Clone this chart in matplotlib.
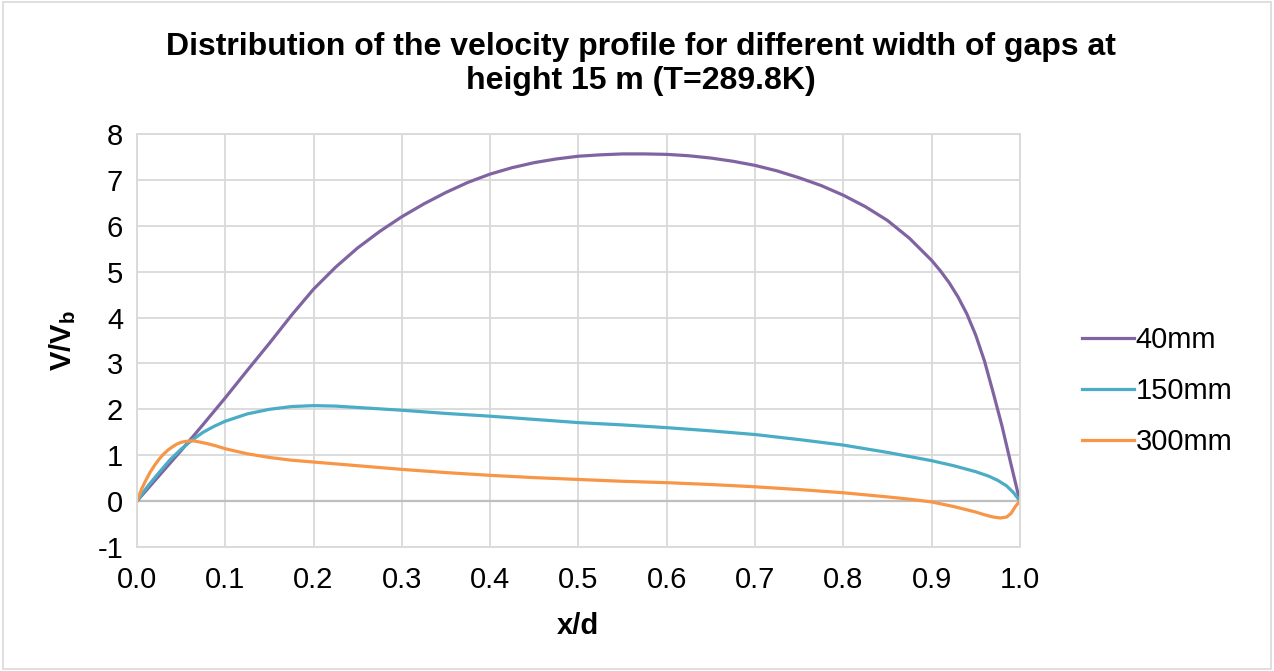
import matplotlib
matplotlib.use("Agg")
import matplotlib.pyplot as plt

plt.rcParams['font.family'] = ['Liberation Sans', 'DejaVu Sans']
plt.rcParams['axes.unicode_minus'] = False

# x/d positions and V/Vb values
x_40 = [0.0, 0.025, 0.05, 0.075, 0.1, 0.125, 0.15, 0.175, 0.2, 0.225, 0.25, 0.275, 0.3,
        0.325, 0.35, 0.375, 0.4, 0.425, 0.45, 0.475, 0.5, 0.525, 0.55, 0.575, 0.6, 0.625,
        0.65, 0.675, 0.7, 0.725, 0.75, 0.775, 0.8, 0.825, 0.85, 0.875, 0.9, 0.91, 0.92,
        0.93, 0.94, 0.95, 0.96, 0.97, 0.98, 0.99, 1.0]
v_40 = [0.0, 0.55, 1.1, 1.67, 2.25, 2.85, 3.44, 4.05, 4.62, 5.1, 5.52, 5.88, 6.2,
        6.48, 6.73, 6.95, 7.13, 7.27, 7.38, 7.46, 7.52, 7.55, 7.57, 7.57, 7.56, 7.53,
        7.48, 7.41, 7.32, 7.2, 7.05, 6.88, 6.67, 6.42, 6.12, 5.73, 5.25, 5.02, 4.76,
        4.45, 4.08, 3.62, 3.05, 2.35, 1.62, 0.8, 0.0]

x_150 = [0.0, 0.0125, 0.025, 0.0375, 0.05, 0.0625, 0.075, 0.0875, 0.1, 0.125, 0.15, 0.175,
         0.2, 0.225, 0.25, 0.3, 0.35, 0.4, 0.45, 0.5, 0.55, 0.6, 0.65, 0.7, 0.75, 0.8, 0.85,
         0.875, 0.9, 0.925, 0.95, 0.965, 0.975, 0.985, 0.993, 1.0]
v_150 = [0.0, 0.33, 0.62, 0.9, 1.13, 1.33, 1.5, 1.63, 1.74, 1.9, 2.0, 2.06,
         2.08, 2.07, 2.04, 1.98, 1.91, 1.85, 1.78, 1.71, 1.66, 1.6, 1.53, 1.45, 1.34, 1.22, 1.06,
         0.97, 0.88, 0.77, 0.64, 0.54, 0.45, 0.33, 0.18, 0.0]

x_300 = [0.0, 0.005, 0.01, 0.015, 0.02, 0.025, 0.03, 0.035, 0.04, 0.045, 0.05, 0.055, 0.06,
         0.065, 0.07, 0.08, 0.09, 0.1, 0.125, 0.15, 0.175, 0.2, 0.25, 0.3, 0.35, 0.4, 0.45,
         0.5, 0.55, 0.6, 0.65, 0.7, 0.75, 0.8, 0.85, 0.875, 0.9, 0.925, 0.95, 0.96, 0.97,
         0.978, 0.985, 0.99, 0.995, 1.0]
v_300 = [0.0, 0.25, 0.45, 0.63, 0.78, 0.91, 1.02, 1.11, 1.18, 1.24, 1.28, 1.3, 1.31,
         1.31, 1.29, 1.25, 1.2, 1.14, 1.03, 0.95, 0.89, 0.85, 0.77, 0.69, 0.62, 0.56, 0.51,
         0.47, 0.43, 0.4, 0.36, 0.31, 0.25, 0.18, 0.09, 0.04, -0.02, -0.12, -0.24, -0.3, -0.35,
         -0.37, -0.35, -0.27, -0.12, 0.0]

fig = plt.figure(figsize=(12.74, 6.71), dpi=100)
ax = fig.add_axes([0.1075, 0.185, 0.693, 0.615])

ax.plot(x_40, v_40, color='#8064A2', lw=2.3, label='40mm', solid_joinstyle='round')
ax.plot(x_150, v_150, color='#4BACC6', lw=2.3, label='150mm', solid_joinstyle='round')
ax.plot(x_300, v_300, color='#F79646', lw=2.3, label='300mm', solid_joinstyle='round')

ax.set_xlim(0, 1)
ax.set_ylim(-1, 8)
ax.set_xticks([i / 10 for i in range(11)])
ax.set_xticklabels(['%.1f' % (i / 10) for i in range(11)])
ax.set_yticks(range(-1, 9))
ax.tick_params(labelsize=21, length=0)
ax.tick_params(axis='y', pad=10)
ax.tick_params(axis='x', pad=14)
ax.grid(True, color='#D9D9D9', lw=1.3)
ax.set_axisbelow(True)
for s in ax.spines.values():
    s.set_color('#D9D9D9')
    s.set_linewidth(1.3)
ax.axhline(0, color='#BFBFBF', lw=1.6, zorder=1)

ax.set_xlabel('x/d', fontsize=21, fontweight='bold', labelpad=13)
ax.set_ylabel('V/V$_\\mathregular{b}$', fontsize=21, fontweight='bold', labelpad=14)
fig.suptitle('Distribution of the velocity profile for different width of gaps at\nheight 15 m (T=289.8K)',
             fontsize=23, fontweight='bold', y=0.953, x=0.503, va='top', linespacing=1.2)

handles, labels = ax.get_legend_handles_labels()
fig.legend(handles, labels, loc='center left', bbox_to_anchor=(0.849, 0.417), frameon=False,
           fontsize=21, handlelength=1.8, handletextpad=0.05, labelspacing=0.78,
           borderpad=0, borderaxespad=0)

fig.patches.append(plt.Rectangle((0.002, 0.003), 0.996, 0.994, transform=fig.transFigure,
                                 fill=False, edgecolor='#D9D9D9', lw=1.2))

fig.savefig('out.png', dpi=100)
